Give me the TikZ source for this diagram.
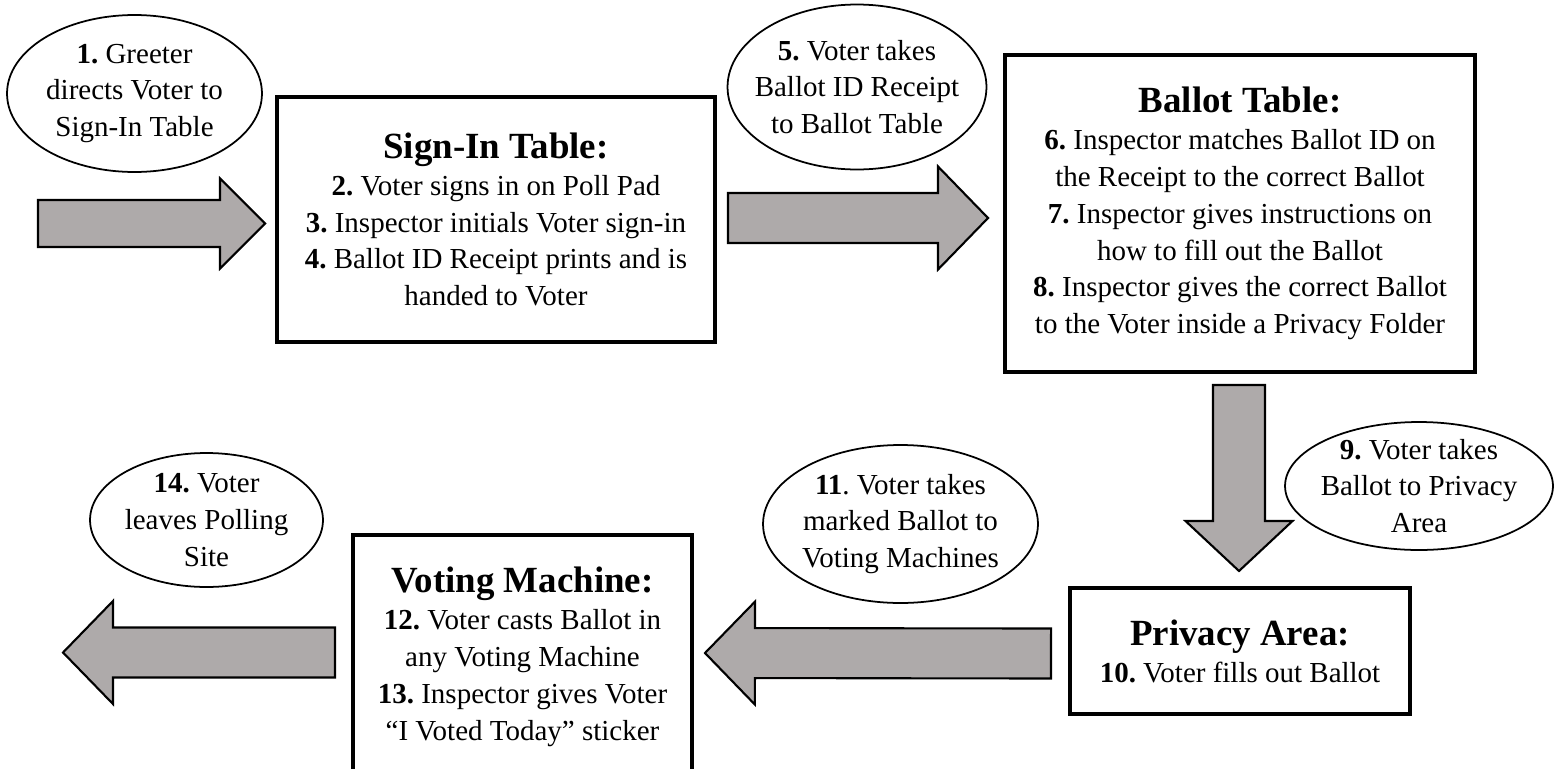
\documentclass[tikz,border=0pt]{standalone}
\usepackage{fontspec}
\setmainfont{Liberation Serif}
\usepackage{tikz}
\usetikzlibrary{shapes.geometric,calc}

\definecolor{arrowgray}{RGB}{174,170,170}
\newcommand{\tabletitle}[1]{{\fontsize{21}{21}\selectfont\bfseries #1}}
\frenchspacing

% sizes of the block arrows
\tikzset{
    shaftw/.store in=\shafthw, headw/.store in=\headhw, headl/.store in=\headlen,
    shaftw=0.5cm, headw=1.03cm, headl=1cm
}

\begin{document}
\begin{tikzpicture}[
    x=0.02cm, y=-0.02cm,
    table/.style={rectangle, draw, line width=2.3pt, align=center,
        font=\fontsize{16.5}{21}\selectfont},
    callout/.style={ellipse, draw, line width=1pt, align=center, inner sep=-0.6cm,
        font=\fontsize{16.5}{21}\selectfont},
    blockarrow/.style={draw, fill=arrowgray, line width=1.2pt, line join=miter,
        to path={let \p1=(\tikztostart), \p2=(\tikztotarget),
            \n1={atan2(\y2-\y1,\x2-\x1)} in
            ($(\p1)+(\n1+90:\shafthw)$)
            -- ($(\p2)+(\n1+180:\headlen)+(\n1+90:\shafthw)$)
            -- ($(\p2)+(\n1+180:\headlen)+(\n1+90:\headhw)$)
            -- (\p2)
            -- ($(\p2)+(\n1+180:\headlen)+(\n1-90:\headhw)$)
            -- ($(\p2)+(\n1+180:\headlen)+(\n1-90:\shafthw)$)
            -- ($(\p1)+(\n1-90:\shafthw)$) -- cycle}}
]
    \useasboundingbox (0,0) rectangle (1562,768);

    % tables
    \node[table, minimum width=8.76cm, minimum height=4.9cm] (signin) at (496,219.5)
        {\tabletitle{Sign-In Table:}\\
         \textbf{2.} Voter signs in on Poll Pad\\
         \textbf{3.} Inspector initials Voter sign-in\\
         \textbf{4.} Ballot ID Receipt prints and is\\
         handed to Voter};
    \node[table, minimum width=9.4cm, minimum height=6.34cm] (ballot) at (1240,213.5)
        {\tabletitle{Ballot Table:}\\
         \textbf{6.} Inspector matches Ballot ID on\\
         the Receipt to the correct Ballot\\
         \textbf{7.} Inspector gives instructions on\\
         how to fill out the Ballot\\
         \textbf{8.} Inspector gives the correct Ballot\\
         to the Voter inside a Privacy Folder};
    \node[table, minimum width=6.8cm, minimum height=2.52cm] (privacy) at (1240,651)
        {\tabletitle{Privacy Area:}\\
         \textbf{10.} Voter fills out Ballot};
    \node[table, minimum width=6.78cm, minimum height=4.88cm] (voting) at (522.5,657)
        {\tabletitle{Voting Machine:}\\
         \textbf{12.} Voter casts Ballot in\\
         any Voting Machine\\
         \textbf{13.} Inspector gives Voter\\
         “I Voted Today” sticker};

    % steps in between
    \node[callout, minimum width=5.1cm, minimum height=3.14cm] (greet) at (134.5,93.5)
        {\textbf{1.} Greeter\\ directs Voter to\\ Sign-In Table};
    \node[callout, minimum width=5.18cm, minimum height=3.3cm] (receipt) at (857,87)
        {\textbf{5.} Voter takes\\ Ballot ID Receipt\\ to Ballot Table};
    \node[callout, minimum width=5.36cm, minimum height=2.56cm] (tobooth) at (1419,486)
        {\textbf{9.} Voter takes\\ Ballot to Privacy\\ Area};
    \node[callout, minimum width=5.5cm, minimum height=3.16cm] (tomachine) at (900.5,524)
        {\textbf{11}. Voter takes\\ marked Ballot to\\ Voting Machines};
    \node[callout, minimum width=4.66cm, minimum height=2.68cm] (leave) at (206.5,520)
        {\textbf{14.} Voter\\ leaves Polling\\ Site};

    % block arrows
    \coordinate (door) at (38,223.5);
    \coordinate (away) at (63,652.5);
    \draw[blockarrow, shaftw=0.47cm, headw=0.9cm, headl=0.9cm]
        (door) to ($(signin.west)+(-10,4)$);
    \draw[blockarrow] ($(signin.east)+(11,-1.5)$) to ($(ballot.west)+(-15,4.5)$);
    \draw[blockarrow, shaftw=0.52cm, headw=1.07cm]
        ($(ballot.south)+(-1,11)$) to ($(privacy.north)+(-1,-15)$);
    \draw[blockarrow] ($(privacy.west)+(-17,2.5)$) to ($(voting.east)+(11,-4)$);
    \draw[blockarrow] ($(voting.west)+(-16,-4.5)$) to (away);
\end{tikzpicture}
\end{document}
